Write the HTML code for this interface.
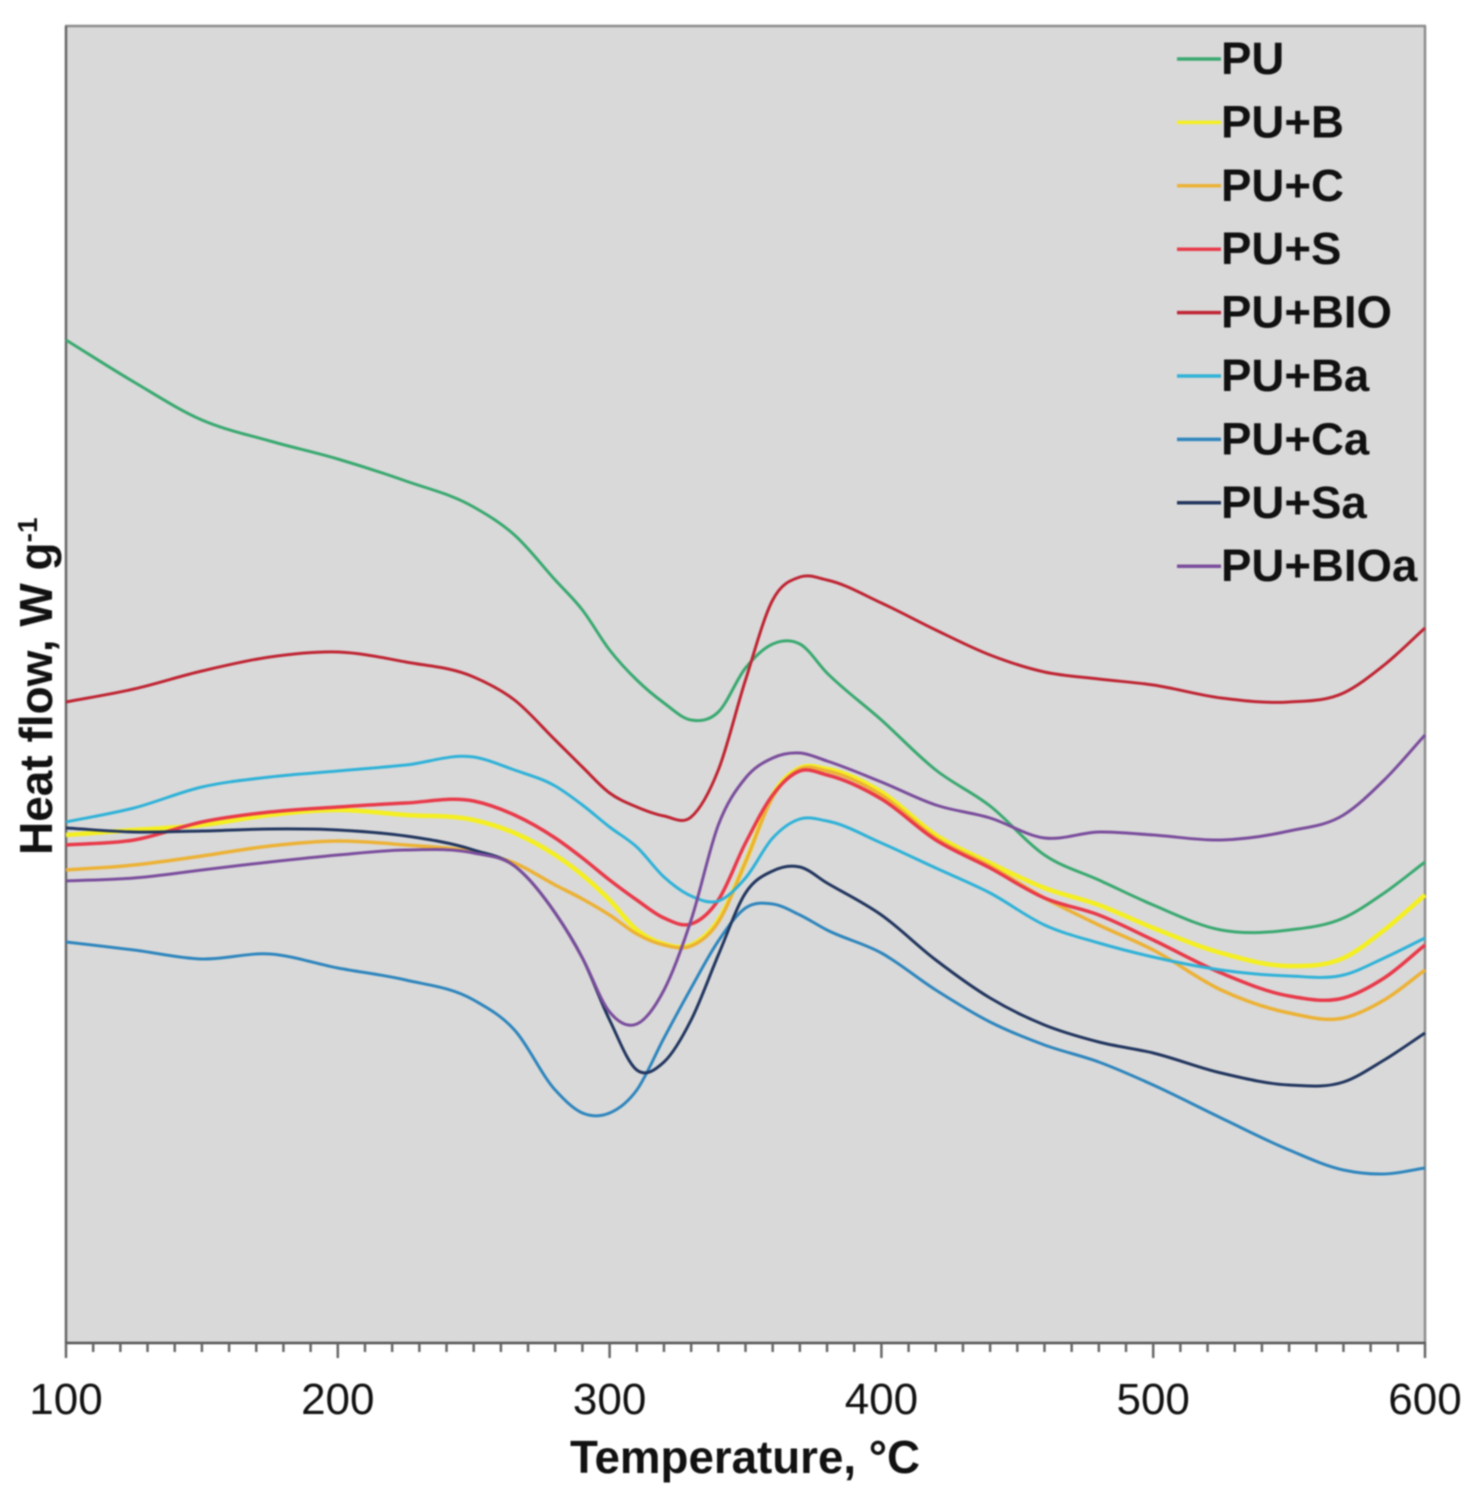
<!DOCTYPE html>
<html lang="en">
<head>
<meta charset="utf-8">
<title>Heat flow vs temperature</title>
<style>
html,body{margin:0;padding:0;background:#fff;width:1478px;height:1503px;overflow:hidden}
svg{display:block;filter:blur(0.8px)}
text{font-family:"Liberation Sans",Arial,sans-serif;fill:#111}
</style>
</head>
<body>
<svg id="chart" xmlns="http://www.w3.org/2000/svg" width="1478" height="1503" viewBox="0 0 1478 1503">
  <rect x="66" y="26" width="1359" height="1317" fill="#d9d9d9"/>
  <line x1="65" y1="26" x2="1426" y2="26" stroke="#8c8c8c" stroke-width="2.5"/>
  <line x1="1425" y1="26" x2="1425" y2="1343" stroke="#8c8c8c" stroke-width="2.5"/>
  <line x1="66" y1="26" x2="66" y2="1343" stroke="#666" stroke-width="2.5"/>
  <line x1="65" y1="1343" x2="1426" y2="1343" stroke="#555" stroke-width="2.5"/>
  <g id="ticks"></g>
  <g id="series"></g>
  <g id="legend"></g>
  <text x="745" y="1473" text-anchor="middle" font-size="46" font-weight="700" textLength="350" lengthAdjust="spacingAndGlyphs">Temperature, °C</text>
  <text transform="translate(52,855) rotate(-90)" font-size="46" font-weight="700">Heat flow, W g<tspan font-size="28" dy="-15">-1</tspan></text>
</svg>
<script>
// Shared temperature samples (°C)
const temperatures = [100,125,150,175,200,225,250,265,280,290,300,310,320,330,340,350,360,370,380,400,420,440,460,480,500,525,550,570,585,600];

// Heat flow values (relative units)
const seriesPU   = [1003,961,923,902,884,862,836,808,763,733,693,663,640,623,631,675,699,699,670,623,573,537,488,463,438,413,413,425,450,481];
const seriesB    = [508,513,518,528,533,528,523,510,488,468,443,413,399,398,423,481,548,575,574,551,508,480,455,438,415,390,377,385,413,448];
const seriesC    = [473,478,487,497,502,498,491,480,458,444,428,409,398,397,421,481,546,574,572,548,505,477,445,418,393,353,330,325,343,373];
const seriesS    = [498,503,521,531,536,540,542,528,505,485,463,443,425,419,443,500,548,572,568,544,503,475,445,428,403,370,347,345,365,398];
const seriesBIO  = [641,654,672,686,691,681,666,643,603,576,550,536,527,526,573,663,743,766,763,740,713,688,671,664,658,645,641,650,678,715];
const seriesBa   = [521,535,556,566,572,578,586,573,557,538,516,496,466,447,442,465,505,524,522,500,475,450,418,400,386,373,367,368,385,405];
const seriesCa   = [401,393,384,389,375,363,343,313,253,230,230,253,305,355,402,435,439,428,413,390,353,321,298,281,258,225,193,173,169,175];
const seriesSa   = [515,511,512,514,513,507,493,477,430,385,323,273,281,323,388,450,472,476,460,428,383,345,318,301,290,270,258,261,283,310];
const seriesBIOa = [462,465,473,481,488,493,490,477,430,385,331,319,353,423,518,565,585,590,582,561,538,525,505,511,508,503,512,528,563,608];

const seriesNames = ["PU","PU+B","PU+C","PU+S","PU+BIO","PU+Ba","PU+Ca","PU+Sa","PU+BIOa"];
const seriesColors = ["#3aa970","#f4ef22","#ecb236","#e83a4a","#bf2533","#2fb2d8","#2f86bd","#22365f","#7a4d9c"];
const seriesWidths = [3,4.5,3.5,3.5,3,3,3,3,3];
const allSeries = [seriesPU,seriesB,seriesC,seriesS,seriesBIO,seriesBa,seriesCa,seriesSa,seriesBIOa];

const xMajorTicks = [100,200,300,400,500,600];
const xTickStep = 10;
const xDomain = [100,600];
const yDomain = [0,1317];

const SVGNS = "http://www.w3.org/2000/svg";
const plot = {left:66,right:1425,top:26,bottom:1343};

function xScale(t){
  return plot.left + (t - xDomain[0]) / (xDomain[1] - xDomain[0]) * (plot.right - plot.left);
}
function yScale(v){
  return plot.bottom - (v - yDomain[0]) / (yDomain[1] - yDomain[0]) * (plot.bottom - plot.top);
}

// Smooth curve through all points using three-point finite-difference slopes
function smoothPath(pts){
  const n = pts.length;
  const d = [], m = new Array(n);
  for(let i=0;i<n-1;i++){
    d.push((pts[i+1][1]-pts[i][1])/(pts[i+1][0]-pts[i][0]));
  }
  m[0]=d[0];
  m[n-1]=d[n-2];
  for(let i=1;i<n-1;i++){
    const h0=pts[i][0]-pts[i-1][0], h1=pts[i+1][0]-pts[i][0];
    m[i]=(h1*d[i-1]+h0*d[i])/(h0+h1);
  }
  let s="M"+pts[0][0].toFixed(1)+","+pts[0][1].toFixed(1);
  for(let i=0;i<n-1;i++){
    const h=(pts[i+1][0]-pts[i][0])/3;
    s+="C"+(pts[i][0]+h).toFixed(1)+","+(pts[i][1]+h*m[i]).toFixed(1)+" "+
         (pts[i+1][0]-h).toFixed(1)+","+(pts[i+1][1]-h*m[i+1]).toFixed(1)+" "+
         pts[i+1][0].toFixed(1)+","+pts[i+1][1].toFixed(1);
  }
  return s;
}

const ticksG = document.getElementById("ticks");
for(let t=xDomain[0];t<=xDomain[1];t+=xTickStep){
  const major = xMajorTicks.includes(t);
  const tick = document.createElementNS(SVGNS,"line");
  
  
  tick.setAttribute("x1",xScale(t));
  tick.setAttribute("x2",xScale(t));
  tick.setAttribute("y1",plot.bottom);
  tick.setAttribute("y2",plot.bottom+(major?15:9));
  tick.setAttribute("stroke","#666");
  tick.setAttribute("stroke-width","2.5");
  ticksG.appendChild(tick);
}
xMajorTicks.forEach(function(t){
  const label = document.createElementNS(SVGNS,"text");
  
  
  label.setAttribute("x",xScale(t));
  label.setAttribute("y",1414);
  label.setAttribute("text-anchor","middle");
  label.setAttribute("font-size","44");
  label.textContent = String(t);
  ticksG.appendChild(label);
});

const seriesG = document.getElementById("series");
allSeries.forEach(function(values,i){
  const pts = values.map(function(v,j){ return [xScale(temperatures[j]),yScale(v)]; });
  const path = document.createElementNS(SVGNS,"path");
  
  
  path.setAttribute("data-series",seriesNames[i]);
  path.setAttribute("d",smoothPath(pts));
  path.setAttribute("fill","none");
  path.setAttribute("stroke",seriesColors[i]);
  path.setAttribute("stroke-width",seriesWidths[i]);
  path.setAttribute("stroke-linejoin","round");
  seriesG.appendChild(path);
});

const legendG = document.getElementById("legend");
seriesNames.forEach(function(name,i){
  const rowY = 59 + i*63.4;
  const swatch = document.createElementNS(SVGNS,"line");
  
  
  swatch.setAttribute("x1",1177);
  swatch.setAttribute("x2",1221);
  swatch.setAttribute("y1",rowY);
  swatch.setAttribute("y2",rowY);
  swatch.setAttribute("stroke",seriesColors[i]);
  swatch.setAttribute("stroke-width",3.5);
  legendG.appendChild(swatch);
  const label = document.createElementNS(SVGNS,"text");
  
  
  label.setAttribute("x",1221);
  label.setAttribute("y",rowY+15);
  label.setAttribute("font-size","45.6");
  label.setAttribute("font-weight","700");
  label.textContent = name;
  legendG.appendChild(label);
});
</script>
</body>
</html>
